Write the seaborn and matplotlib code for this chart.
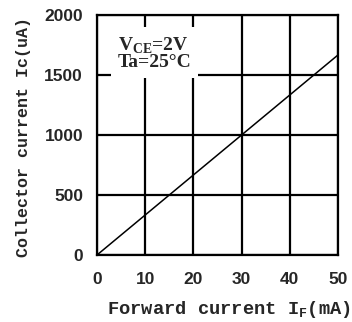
import matplotlib
matplotlib.use("Agg")
import matplotlib.pyplot as plt
import seaborn as sns
import pandas as pd

forward_current_mA = [0, 50]
collector_current_uA = [0, 1667]
x_ticks = [0, 10, 20, 30, 40, 50]
y_ticks = [0, 500, 1000, 1500, 2000]

sns.set_theme(style="white")
plt.rcParams['font.family'] = ['Liberation Sans', 'DejaVu Sans']

df = pd.DataFrame({"IF": forward_current_mA, "IC": collector_current_uA})

fig = plt.figure(figsize=(3.52, 3.22), dpi=100)
ax = fig.add_axes([97/352, 1 - 255/322, (338-97)/352, (255-15)/322])

sns.lineplot(data=df, x="IF", y="IC", ax=ax, color="black", linewidth=1.1)

ax.set_xlim(0, 50)
ax.set_ylim(0, 2000)
ax.set_xticks(x_ticks)
ax.set_yticks(y_ticks)
ax.set_xticklabels([str(t) for t in x_ticks], fontsize=12.5, fontweight="bold")
ax.set_yticklabels([str(t) for t in y_ticks], fontsize=12.5, fontweight="bold")
ax.tick_params(axis="both", length=0)
ax.tick_params(axis="x", pad=12)
ax.tick_params(axis="y", pad=10)
ax.grid(True, color="black", linewidth=1.6)
ax.set_axisbelow(True)
for s in ax.spines.values():
    s.set_color("black")
    s.set_linewidth(1.6)

ax.set_xlabel("Forward current I$_\\mathregular{F}$(mA)", fontsize=13.5, fontweight="bold",
              family="Liberation Mono")
ax.xaxis.set_label_coords(0.548, -0.185)
ax.set_ylabel("Collector current Ic(uA)", fontsize=12, fontweight="bold",
              family="Liberation Mono")
ax.yaxis.set_label_coords(-0.273, 0.49)

ax.text(4.3, 1830, "V$_\\mathregular{CE}$=2V\nTa=25°C", fontsize=14, fontweight="bold",
        family="Liberation Serif", va="top", ha="left", linespacing=0.9,
        bbox=dict(facecolor="white", edgecolor="none", pad=5), zorder=3)

fig.savefig("out.png", dpi=100)
